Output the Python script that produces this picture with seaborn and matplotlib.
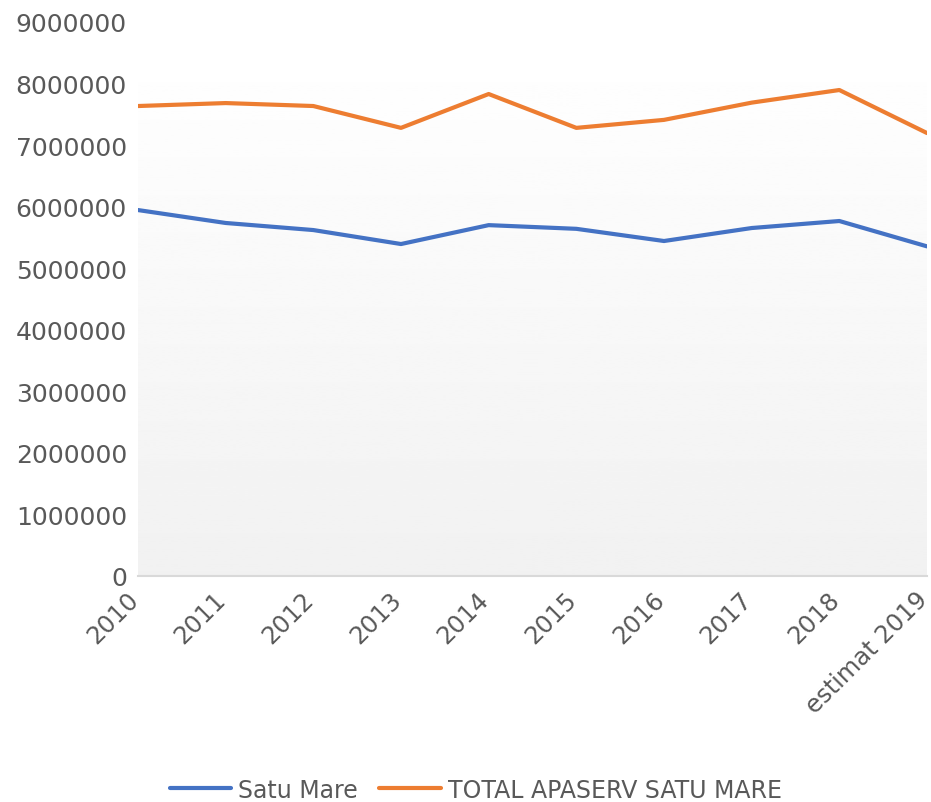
import numpy as np
import pandas as pd
import matplotlib
matplotlib.use("Agg")
import matplotlib.pyplot as plt
import matplotlib.transforms as mtransforms
import seaborn as sns

years = ["2010", "2011", "2012", "2013", "2014", "2015", "2016", "2017", "2018", "estimat 2019"]
satu_mare = [5945000, 5735000, 5620000, 5393000, 5700000, 5640000, 5442000, 5653000, 5767000, 5355000]
total_apaserv = [7635000, 7683000, 7635000, 7280000, 7830000, 7280000, 7410000, 7690000, 7895000, 7196000]
series_names = ["Satu Mare", "TOTAL APASERV SATU MARE"]

df = pd.DataFrame({
    "An": years * 2,
    "Valoare": satu_mare + total_apaserv,
    "Serie": [series_names[0]] * len(years) + [series_names[1]] * len(years),
})
df["pos"] = list(range(len(years))) * 2

sns.set_theme(style="white")
plt.rcParams['font.family'] = ['DejaVu Sans']

fig = plt.figure(figsize=(9.31, 8.03), dpi=100)
ax = fig.add_axes([138/931, 1-577/803, (927-138)/931, (577-23)/803])

# gradient background
grad = np.linspace(0.945, 1.0, 256).reshape(-1, 1)
ax.imshow(grad, extent=[0, 1, 0, (577-45)/(577-23)], transform=ax.transAxes,
          cmap="gray", vmin=0, vmax=1, aspect="auto", zorder=0, origin="lower")

sns.lineplot(data=df, x="pos", y="Valoare", hue="Serie",
             palette=["#4472C4", "#ED7D31"], linewidth=3, ax=ax, zorder=3)

ax.set_xlim(0, len(years) - 1)
ax.set_ylim(0, 9000000)
ax.set_yticks(np.arange(0, 9000001, 1000000))
ax.set_yticklabels([str(v) for v in range(0, 9000001, 1000000)])
ax.set_xticks(range(len(years)))
ax.set_xticklabels(years, rotation=45, ha="right", rotation_mode="anchor")
ax.tick_params(axis="y", length=0, labelsize=18, labelcolor="#595959", pad=8)
ax.tick_params(axis="x", length=0, labelsize=17.5, labelcolor="#595959", pad=8)
offset = mtransforms.ScaledTranslation(-12/100, 0, fig.dpi_scale_trans)
for lbl in ax.get_xticklabels():
    lbl.set_transform(lbl.get_transform() + offset)
ax.set_xlabel("")
ax.set_ylabel("")
for s in ["top", "right", "left"]:
    ax.spines[s].set_visible(False)
ax.spines["bottom"].set_color("#D9D9D9")
ax.spines["bottom"].set_linewidth(1.5)
ax.spines["bottom"].set_zorder(2)
ax.set_facecolor("white")

leg = ax.legend(loc="lower center", ncol=2,
                frameon=False, fontsize=17, handlelength=2.6, columnspacing=0.9,
                handletextpad=0.3)
leg.set_bbox_to_anchor((0.511, -0.026), transform=fig.transFigure)
for t in leg.get_texts():
    t.set_color("#595959")

fig.savefig("out.png", dpi=100, facecolor="white")
